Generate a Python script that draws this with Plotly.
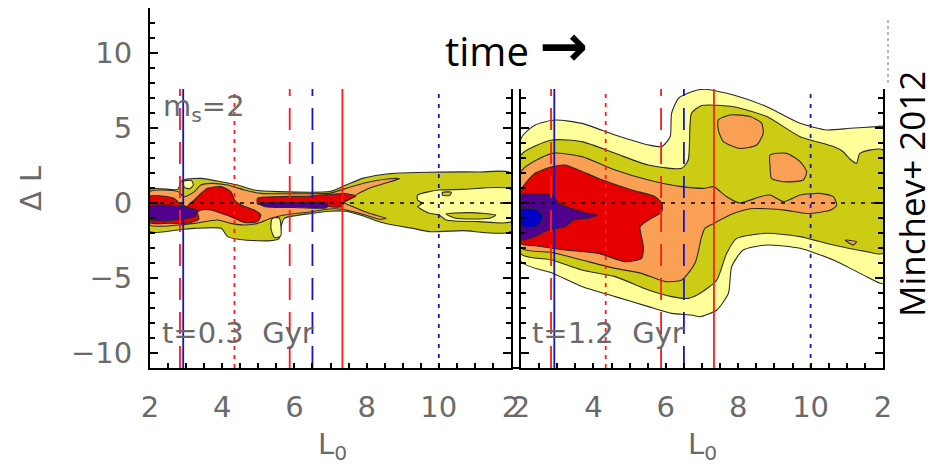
import plotly.graph_objects as go

W, H = 936, 467

# ---------------- data ----------------
L0_RANGE = [2, 12]
DL_RANGE = [-11, 13]
X_TICKS = [2, 4, 6, 8, 10, 12]
X_TICKTEXT = ["2", "4", "6", "8", "10", "2"]
Y_TICKS = [-10, -5, 0, 5, 10]
Y_TICKTEXT = ["\u221210", "\u22125", "0", "5", "10"]

# resonance positions (L0) and their line kinds
RES_L0 = [2.83, 2.92, 4.34, 5.87, 6.50, 7.33, 10.0]
RES_KIND = ["red_dash", "blue_solid", "red_dot", "red_dash", "blue_dash", "red_solid", "blue_dot"]

# ---- panel 1 (t = 0.3 Gyr) contour regions: (L0, dL) ----
P1_OLIVE = [(2.0, 0.91), (2.77, 0.91), (2.86, 1.42), (2.99, 1.58), (3.41, 1.64), (3.97, 1.42),
            (4.43, 1.2), (4.89, 0.87), (5.54, 0.76), (7.0, 0.78), (7.43, 1.2), (7.89, 1.64),
            (8.35, 1.87), (8.81, 1.98), (9.74, 2.05), (11.12, 2.07), (12.0, 2.0),
            (12.0, -1.9), (10.66, -1.84), (9.74, -1.91), (9.28, -1.69), (8.81, -1.5),
            (8.35, -1.25), (7.89, -0.85), (7.43, -0.55), (6.97, -0.55), (6.46, -0.7),
            (5.72, -1.02), (5.63, -1.58), (5.58, -2.36), (5.35, -2.51), (4.61, -2.47),
            (4.15, -2.24), (3.97, -1.69), (3.23, -1.69), (2.77, -1.8), (2.0, -1.91)]
P1_LYELLOW_BIG = [(9.41, 0.53), (9.74, 0.76), (10.01, 0.87), (10.66, 0.91), (12.0, 0.91),
                  (12.0, -1.24), (11.12, -1.24), (10.2, -1.13), (10.01, -0.8), (9.74, -0.69),
                  (9.55, -0.47), (9.41, -0.24), (9.55, -0.02), (9.41, 0.2)]
P1_OLIVE_ISLAND_A = [(10.2, -0.73), (10.84, -0.64), (11.58, -0.8), (11.4, -1.02), (10.48, -1.02)]
P1_OLIVE_ISLAND_B = [(10.1, 0.7), (10.35, 0.72), (10.3, 0.5), (10.1, 0.52)]
P1_ORANGE = [(2.0, 0.76), (2.77, 0.76), (2.95, 0.42), (3.23, 0.76), (3.41, 1.2), (3.69, 1.31),
             (4.15, 1.2), (4.61, 0.87), (5.07, 0.64), (6.0, 0.62), (7.0, 0.66), (7.52, 1.05),
             (8.07, 1.4), (8.63, 1.62), (8.91, 1.62), (8.63, 1.4), (8.07, 0.98), (7.61, 0.42),
             (7.34, 0.09), (7.61, -0.24), (8.07, -0.69), (8.54, -1.02), (8.35, -1.08),
             (7.89, -0.75), (7.34, -0.42), (6.97, -0.4), (6.46, -0.58), (5.72, -0.8),
             (5.35, -1.02), (4.98, -1.36), (4.61, -1.47), (4.24, -1.36), (3.87, -1.13),
             (3.23, -1.36), (2.77, -1.47), (2.0, -1.47)]
P1_RED_A = [(2.0, 0.45), (2.4, 0.45), (2.67, 0.3), (2.86, -0.1), (3.1, -0.3), (3.3, -0.6),
            (3.35, -1.1), (3.0, -1.35), (2.5, -1.35), (2.0, -1.3)]
P1_RED_B = [(3.04, -0.24), (3.23, 0.2), (3.41, 0.64), (3.6, 0.98), (3.97, 1.09), (4.24, 0.76),
            (4.34, 0.2), (4.52, -0.13), (4.89, -0.47), (5.07, -0.8), (4.98, -1.24),
            (4.61, -1.3), (4.24, -0.91), (3.97, -0.69), (3.69, -0.47), (3.41, -0.47), (3.23, -0.69)]
P1_RED_C = [(4.98, 0.31), (5.54, 0.42), (6.46, 0.47), (7.0, 0.58), (7.45, 0.62), (7.7, 0.45),
            (7.4, 0.1), (7.3, -0.25), (7.0, -0.25), (6.46, -0.1), (5.54, -0.15), (4.98, -0.05)]
P1_PURPLE_A = [(2.0, -0.2), (2.4, -0.13), (2.8, -0.2), (3.1, -0.35), (3.32, -0.5), (3.23, -0.91),
               (2.77, -1.1), (2.4, -1.2), (2.0, -1.1)]
P1_PURPLE_B = [(5.0, -0.02), (6.0, 0.02), (6.9, -0.02), (6.9, -0.3), (6.0, -0.3), (5.2, -0.25)]
P1_LYELLOW_A = [(2.93, 1.45), (3.15, 1.5), (3.2, 1.2), (3.1, 0.95), (2.95, 1.05)]
P1_LYELLOW_B = [(5.38, -1.05), (5.58, -1.0), (5.62, -2.2), (5.45, -2.3), (5.35, -1.7)]

# ---- panel 2 (t = 1.2 Gyr) contour regions ----
P2_LYELLOW = [(2.0, 4.3), (2.39, 5.2), (2.94, 5.53), (3.68, 5.31), (4.6, 4.53), (5.52, 3.87),
              (5.89, 3.76), (6.12, 4.42), (6.16, 5.98), (6.35, 6.98), (6.71, 7.42), (7.08, 7.58),
              (7.87, 7.2), (8.79, 6.42), (9.71, 5.31), (10.44, 4.87), (11.09, 4.98),
              (11.83, 5.09), (12.0, 5.1),
              (12.0, -5.36), (11.55, -4.91), (10.63, -3.8), (9.71, -3.02), (8.79, -2.8),
              (8.14, -3.13), (7.82, -4.24), (7.73, -6.02), (7.41, -7.13), (6.95, -7.58),
              (6.71, -7.47), (6.16, -7.36), (5.52, -6.91), (4.6, -6.24), (3.68, -5.56),
              (2.86, -4.67), (2.0, -3.9)]
P2_OLIVE = [(2.0, 3.2), (2.86, 4.2), (3.68, 4.09), (4.6, 3.31), (5.52, 2.53), (6.44, 2.31),
            (6.62, 2.87), (6.71, 5.98), (6.99, 6.5), (7.87, 6.42), (8.79, 5.76), (9.71, 4.42),
            (10.63, 3.76), (10.9, 3.42), (11.1, 2.9), (11.27, 2.64), (11.36, 3.31), (12.0, 3.53),
            (12.0, -3.36), (11.55, -3.24), (10.63, -2.8), (9.71, -2.24), (8.79, -2.02),
            (7.96, -2.36), (7.68, -3.36), (7.41, -5.13), (6.95, -6.02), (6.62, -6.36),
            (6.16, -6.24), (5.52, -5.8), (4.6, -4.91), (3.68, -4.47), (2.86, -3.8), (2.0, -3.4)]
P2_ORANGE = [(2.0, 2.1), (2.86, 3.31), (3.68, 3.09), (4.6, 2.2), (5.52, 1.53), (6.44, 1.09),
             (7.08, 0.98), (7.32, 1.09), (7.68, 0.42), (8.05, 0.0), (8.6, 0.42), (8.88, 0.53),
             (9.25, 0.09), (9.71, 0.53), (10.26, 0.64), (10.63, 0.42), (10.72, -0.16),
             (10.54, -0.49), (9.89, -0.7), (9.34, -0.49), (8.79, -0.38), (8.33, -0.38),
             (7.87, -0.7), (7.32, -1.36), (7.08, -1.69), (6.99, -2.24), (6.81, -4.0),
             (6.44, -5.13), (5.98, -5.24), (5.33, -4.69), (4.6, -4.36), (3.68, -3.8),
             (2.86, -3.3), (2.0, -3.0)]
P2_ORANGE_ISLAND_A = [(7.45, 5.53), (7.77, 5.87), (8.33, 5.76), (8.65, 5.31), (8.69, 4.64),
                      (8.51, 3.87), (8.05, 3.64), (7.59, 4.09), (7.45, 4.87)]
P2_ORANGE_ISLAND_B = [(8.88, 3.2), (9.34, 3.31), (9.71, 2.76), (9.89, 2.09), (9.8, 1.53),
                      (9.25, 1.42), (8.92, 1.64), (8.88, 2.42)]
P2_ORANGE_ISLAND_C = [(10.95, -2.47), (11.27, -2.58), (11.18, -2.8)]
P2_RED = [(2.0, 0.87), (2.39, 1.98), (2.86, 2.42), (3.22, 2.53), (4.14, 1.64), (5.06, 0.87),
          (5.7, 0.42), (5.89, -0.02), (5.89, -0.58), (5.52, -1.13), (5.29, -1.58), (5.38, -2.91),
          (5.33, -3.69), (4.88, -3.91), (4.14, -3.36), (3.22, -3.13), (2.39, -2.85), (2.0, -2.7)]
P2_PURPLE = [(2.0, 0.53), (2.48, 0.6), (2.85, 0.53), (3.04, -0.02), (3.4, -0.36), (3.86, -0.69),
             (4.1, -0.8), (3.86, -1.02), (3.45, -1.13), (3.22, -1.58), (2.76, -1.8),
             (2.39, -2.24), (2.0, -2.45)]
P2_BLUE = [(2.0, -0.45), (2.15, -0.35), (2.4, -0.4), (2.57, -0.7), (2.6, -1.05), (2.5, -1.45),
           (2.3, -1.65), (2.1, -1.6), (2.0, -1.5)]

# ---------------- styles ----------------
C_LY = "#ffff99"
C_OL = "#cccc14"
C_OR = "#f9a055"
C_RD = "#e60000"
C_PU = "#50008c"
C_BL = "#0000c8"
EDGE = "#2a2a2a"
GRAY = "#6a6a6a"
AXFONT = dict(family="DejaVu Sans", size=29, color=GRAY)
LINE_STYLE = {
    "red_solid": ("#ff1a1a", "solid"),
    "red_dash": ("#ff1a1a", "22px,12px"),
    "red_dot": ("#ff1a1a", "4px,5px"),
    "blue_solid": ("#1414c0", "solid"),
    "blue_dash": ("#1414c0", "22px,12px"),
    "blue_dot": ("#1414c0", "4px,6px"),
}

fig = go.Figure()


def poly(pts, color, xa, ya):
    fig.add_trace(go.Scatter(
        x=[p[0] for p in pts] + [pts[0][0]], y=[p[1] for p in pts] + [pts[0][1]],
        mode="lines", fill="toself", fillcolor=color,
        line=dict(color=EDGE, width=1.1, shape="spline", smoothing=0.6),
        hoverinfo="skip", showlegend=False, xaxis=xa, yaxis=ya))


# panel 1
for pts, col in [(P1_OLIVE, C_OL), (P1_LYELLOW_BIG, C_LY), (P1_OLIVE_ISLAND_A, C_OL),
                 (P1_OLIVE_ISLAND_B, C_OL), (P1_ORANGE, C_OR), (P1_LYELLOW_A, C_LY),
                 (P1_LYELLOW_B, C_LY), (P1_RED_A, C_RD), (P1_RED_B, C_RD), (P1_RED_C, C_RD),
                 (P1_PURPLE_A, C_PU), (P1_PURPLE_B, C_PU)]:
    poly(pts, col, "x", "y")

# panel 2
for pts, col in [(P2_LYELLOW, C_LY), (P2_OLIVE, C_OL), (P2_ORANGE, C_OR),
                 (P2_ORANGE_ISLAND_A, C_OR), (P2_ORANGE_ISLAND_B, C_OR), (P2_ORANGE_ISLAND_C, C_OR),
                 (P2_RED, C_RD), (P2_PURPLE, C_PU), (P2_BLUE, C_BL)]:
    poly(pts, col, "x2", "y2")

# resonance lines and zero line
for xa, ya in [("x", "y"), ("x2", "y2")]:
    for v, kind in zip(RES_L0, RES_KIND):
        col, dash = LINE_STYLE[kind]
        fig.add_trace(go.Scatter(x=[v, v], y=DL_RANGE, mode="lines",
                                 line=dict(color=col, width=1.8, dash=dash),
                                 hoverinfo="skip", showlegend=False, xaxis=xa, yaxis=ya))
    fig.add_trace(go.Scatter(x=L0_RANGE, y=[0, 0], mode="lines",
                             line=dict(color="black", width=1.6, dash="4px,6px"),
                             hoverinfo="skip", showlegend=False, xaxis=xa, yaxis=ya))

# ---------------- layout ----------------
YDOM = [(H - 368) / H, (H - 8) / H]
X1DOM = [150 / W, 511 / W]
X2DOM = [521 / W, 883 / W]

xcommon = dict(range=L0_RANGE, tickvals=X_TICKS, ticktext=X_TICKTEXT, ticks="inside",
               ticklen=5, tickwidth=1.5, tickcolor="black", showline=True, linecolor="black",
               linewidth=2, showgrid=False, zeroline=False, tickfont=AXFONT,
               ticklabelstandoff=12, automargin=False,
               minor=dict(dtick=0.5, ticks="inside", ticklen=5, tickwidth=1.5, tickcolor="black",
                          showgrid=False))
ycommon = dict(range=DL_RANGE, tickvals=Y_TICKS, ticktext=Y_TICKTEXT, ticklen=8, tickwidth=1.5,
               tickcolor="black", showgrid=False, zeroline=False, tickfont=AXFONT,
               automargin=False,
               minor=dict(dtick=1, ticklen=5, tickwidth=1.5, tickcolor="black", showgrid=False))


def ymin(t):
    return {**ycommon["minor"], "ticks": t}


yc = {k: v for k, v in ycommon.items() if k != "minor"}

fig.update_layout(
    width=W, height=H, margin=dict(l=0, r=0, t=0, b=0, autoexpand=False),
    paper_bgcolor="white", plot_bgcolor="rgba(0,0,0,0)", showlegend=False,
    xaxis=dict(domain=X1DOM, anchor="y", **xcommon),
    xaxis2=dict(domain=X2DOM, anchor="y2", **xcommon),
    yaxis=dict(domain=YDOM, anchor="x", ticks="inside", showline=True, linecolor="black",
               linewidth=2, mirror="ticks", ticklabelstandoff=10, minor=ymin("inside"), **yc),
    yaxis3=dict(overlaying="y", anchor="x", side="right", ticks="outside", showline=False,
                showticklabels=False, minor=ymin("outside"), **yc),
    yaxis2=dict(domain=YDOM, anchor="x2", ticks="inside", showline=True, linecolor="black",
                linewidth=2, mirror="ticks", showticklabels=False, minor=ymin("inside"), **yc),
    yaxis4=dict(overlaying="y2", anchor="x2", side="left", ticks="outside", showline=False,
                showticklabels=False, minor=ymin("outside"), **yc),
    yaxis5=dict(overlaying="y2", anchor="x2", side="right", ticks="outside", showline=False,
                showticklabels=False, minor=ymin("outside"), **yc),
)

# white cover over the top part (as in the original slide)
fig.add_shape(type="rect", xref="paper", yref="paper", x0=160 / W, x1=1, y0=(H - 89) / H, y1=1,
              fillcolor="white", line=dict(width=0), layer="above")
fig.add_shape(type="line", xref="paper", yref="paper", x0=888 / W, x1=888 / W,
              y0=(H - 20) / H, y1=(H - 86) / H, line=dict(color="#777", width=1, dash="dot"),
              layer="above")
fig.add_shape(type="line", xref="paper", yref="paper", x0=511 / W, x1=521 / W,
              y0=(H - 368) / H, y1=(H - 368) / H, line=dict(color="black", width=2), layer="above")

ann = []
ann.append(dict(text="time <span style='font-family:DejaVu Sans;font-weight:bold;"
                     "font-size:58px'>\u2192</span>", x=443 / W,
                y=(H - 46) / H, xanchor="left", yanchor="middle",
                font=dict(family="Open Sans", size=40, color="black")))
ann.append(dict(text="Minchev+ 2012", x=911 / W, y=(H - 194) / H, xanchor="center",
                yanchor="middle", textangle=-90,
                font=dict(family="Open Sans", size=35, color="black")))
ann.append(dict(text="\u0394 L", x=31 / W, y=(H - 189) / H, xanchor="center", yanchor="middle",
                textangle=-90, font=AXFONT))
for xc in (332, 702):
    ann.append(dict(text="L<sub>0</sub>", x=xc / W, y=(H - 446) / H, xanchor="center",
                    yanchor="middle", font=AXFONT))
ann.append(dict(text="m<sub>s</sub>=2", x=161 / W, y=(H - 108) / H, xanchor="left",
                yanchor="middle", font=AXFONT))
ann.append(dict(text="t=0.3\u00a0 Gyr", x=160 / W, y=(H - 333) / H, xanchor="left",
                yanchor="middle", font=AXFONT))
ann.append(dict(text="t=1.2\u00a0 Gyr", x=530 / W, y=(H - 333) / H, xanchor="left",
                yanchor="middle", font=AXFONT))
for a in ann:
    a.update(xref="paper", yref="paper", showarrow=False)
fig.update_layout(annotations=ann)

fig.write_html("out.html", config={"displayModeBar": False},
               post_script="document.body.style.margin='0';document.body.style.overflow='hidden';")
